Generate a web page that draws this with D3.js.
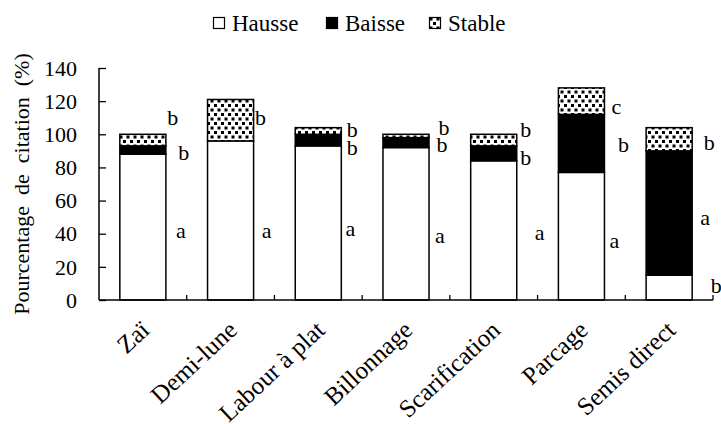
<!DOCTYPE html>
<html>
<head>
<meta charset="utf-8">
<script src="https://cdn.jsdelivr.net/npm/d3@7"></script>
<style>
  body { margin: 0; background: #fff; }
</style>
</head>
<body>
<div id="chart"></div>
<script>
// data
var categories = ["Zaï", "Demi-lune", "Labour à plat", "Billonnage", "Scarification", "Parcage", "Semis direct"];
var hausse = [88, 96, 93, 92, 84, 77, 15];
var baisse = [5, 0, 7, 6, 9, 35, 75];
var stable = [7, 25, 4, 2, 7, 16, 14];
var seriesNames = ["Hausse", "Baisse", "Stable"];
var yTicks = [0, 20, 40, 60, 80, 100, 120, 140];

// significance letters, with the value level they sit at
var letterText = [["b","b","a"], ["b","a"], ["b","b","a"], ["b","b","a"], ["b","b","a"], ["c","b","a"], ["b","a","b"]];
var letterLevel = [[110,89,42], [110,42], [103,92,43], [104,94,39], [103,86,41], [117,94,36], [95,50,9]];
// horizontal offsets of the letters from the band centre (px)
var letterDx = [[30,41,38], [30,36], [34,34,32], [38,36,34], [32,32,46], [35,42,33], [40,36,47]];

var FONT = "'Liberation Serif', 'Times New Roman', 'DejaVu Serif', serif";
var W = 721, H = 424;
var svg = d3.select("#chart").append("svg")
    .attr("width", W)
    .attr("height", H)
    .attr("font-family", FONT);

// dotted fill for "Stable"
var defs = svg.append("defs");
var pat = defs.append("pattern")
    .attr("id", "dots")
    .attr("patternUnits", "userSpaceOnUse")
    .attr("width", 7)
    .attr("height", 9);
pat.append("rect").attr("width", 7).attr("height", 9).attr("fill", "#fff");
pat.append("rect").attr("x", 0.5).attr("y", 0.5).attr("width", 3).attr("height", 3).attr("fill", "#000");
pat.append("rect").attr("x", 4).attr("y", 5).attr("width", 3).attr("height", 3).attr("fill", "#000");

var fills = {"Hausse": "#fff", "Baisse": "#000", "Stable": "url(#dots)"};

var x = d3.scaleBand()
    .domain(categories)
    .range([99, 713])
    .paddingInner(0.475)
    .paddingOuter(0.2375);

var y = d3.scaleLinear()
    .domain([0, 140])
    .range([300, 68]);

var rows = categories.map(function(c, i) {
    return {cat: c, Hausse: hausse[i], Baisse: baisse[i], Stable: stable[i]};
});
var stacked = d3.stack().keys(seriesNames)(rows);

// bars
svg.append("g").selectAll("g")
    .data(stacked)
    .enter().append("g")
    .attr("fill", function(d) { return fills[d.key]; })
    .selectAll("rect")
    .data(function(d) { return d.filter(function(p) { return p[1] > p[0]; }); })
    .enter().append("rect")
    .attr("x", function(d) { return x(d.data.cat); })
    .attr("y", function(d) { return y(d[1]); })
    .attr("width", x.bandwidth())
    .attr("height", function(d) { return y(d[0]) - y(d[1]); })
    .attr("stroke", "#000")
    .attr("stroke-width", 1.5);

// y axis
var yAxis = svg.append("g")
    .attr("transform", "translate(99,0)")
    .call(d3.axisRight(y).tickValues(yTicks).tickSize(7).tickFormat(""));
yAxis.select(".domain").attr("stroke", "#000").attr("stroke-width", 1.5).attr("d", "M0,68V300");
yAxis.selectAll("line").attr("stroke", "#000").attr("stroke-width", 1.3);

svg.append("g").selectAll("text")
    .data(yTicks)
    .enter().append("text")
    .attr("x", 77)
    .attr("y", function(d) { return y(d); })
    .attr("dy", "0.35em")
    .attr("text-anchor", "end")
    .attr("font-size", 22)
    .text(function(d) { return d; });

// x axis: ticks at band boundaries, pointing up
var bounds = categories.map(function(c) { return x(c) - x.step() * x.paddingInner() / 2; });
bounds.push(713);
var xg = svg.append("g");
xg.append("line")
    .attr("x1", 99).attr("x2", 713)
    .attr("y1", y(0)).attr("y2", y(0))
    .attr("stroke", "#000").attr("stroke-width", 1.5);
xg.selectAll(".tk")
    .data(bounds.slice(1))
    .enter().append("line")
    .attr("x1", function(d) { return d; }).attr("x2", function(d) { return d; })
    .attr("y1", y(0)).attr("y2", y(0) - 5)
    .attr("stroke", "#000").attr("stroke-width", 1.3);

xg.selectAll(".lbl")
    .data(categories)
    .enter().append("text")
    .attr("text-anchor", "end")
    .attr("transform", function(d) {
        return "translate(" + (x(d) + x.bandwidth() / 2 + 8) + "," + 332 + ") rotate(-43)";
    })
    .attr("font-size", 25)
    .text(function(d) { return d; });

// y axis title
svg.append("text")
    .attr("transform", "translate(29,184) rotate(-90)")
    .attr("text-anchor", "middle")
    .attr("font-size", 22)
    .style("white-space", "pre")
    .text("Pourcentage  de  citation  (%)");

// letters
categories.forEach(function(c, i) {
    letterText[i].forEach(function(t, j) {
        svg.append("text")
            .attr("x", x(c) + x.bandwidth() / 2 + letterDx[i][j])
            .attr("y", y(letterLevel[i][j]))
            .attr("dy", "0.35em")
            .attr("text-anchor", "middle")
            .attr("font-size", 22)
            .text(t);
    });
});

// legend
var legendX = [213, 326, 429];
var leg = svg.append("g").selectAll("g")
    .data(seriesNames)
    .enter().append("g")
    .attr("transform", function(d, i) { return "translate(" + legendX[i] + ",17)"; });
leg.append("rect")
    .attr("x", 0.5).attr("y", 0.5)
    .attr("width", 11).attr("height", 11)
    .attr("fill", function(d) { return fills[d]; })
    .attr("stroke", "#000")
    .attr("stroke-width", 1.2);
leg.append("text")
    .attr("x", 19)
    .attr("y", 6)
    .attr("dy", "0.35em")
    .attr("font-size", 23)
    .text(function(d) { return d; });
</script>
</body>
</html>
